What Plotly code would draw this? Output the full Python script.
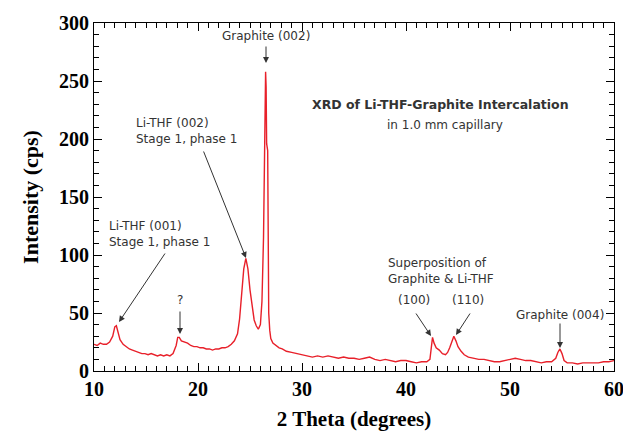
import plotly.graph_objects as go

two_theta = [10.0, 10.3, 10.6, 10.9, 11.2, 11.5, 11.8, 12.0, 12.15, 12.3, 12.5, 12.8, 13.1, 13.4, 13.7,
             14.0, 14.3, 14.6, 14.9, 15.2, 15.5, 15.8, 16.1, 16.4, 16.7, 17.0, 17.3, 17.6, 17.9, 18.05,
             18.2, 18.4, 18.7, 19.0, 19.3, 19.6, 19.9, 20.2, 20.5, 20.8, 21.1, 21.4, 21.7, 22.0, 22.3,
             22.6, 22.9, 23.2, 23.5, 23.8, 24.0, 24.2, 24.4, 24.6, 24.8, 25.0, 25.2, 25.4, 25.6, 25.8,
             26.0, 26.15, 26.3, 26.4, 26.45, 26.5, 26.55, 26.6, 26.7, 26.75, 26.8, 26.9, 27.0, 27.2, 27.5,
             27.8, 28.1, 28.5, 29.0, 29.5, 30.0, 30.5, 31.0, 31.5, 32.0, 32.5, 33.0, 33.5, 34.0, 34.5,
             35.0, 35.5, 36.0, 36.5, 37.0, 37.5, 38.0, 38.5, 39.0, 39.5, 40.0, 40.5, 41.0, 41.5, 42.0,
             42.3, 42.45, 42.55, 42.7, 42.9, 43.2, 43.5, 43.8, 44.0, 44.2, 44.4, 44.6, 44.8, 45.0, 45.3,
             45.6, 46.0, 46.5, 47.0, 47.5, 48.0, 48.5, 49.0, 49.5, 50.0, 50.5, 51.0, 51.5, 52.0, 52.5,
             53.0, 53.5, 54.0, 54.4, 54.6, 54.8, 55.0, 55.2, 55.5, 56.0, 56.5, 57.0, 57.5, 58.0, 58.5,
             59.0, 59.5, 60.0]
intensity = [23, 22, 24, 23, 23, 25, 30, 38, 39, 33, 27, 23, 21, 19, 18,
             17, 16, 15, 15, 14, 15, 14, 13, 14, 13, 14, 13, 15, 22, 29,
             29, 26, 25, 24, 22, 21, 21, 20, 20, 19, 19, 18, 19, 19, 20,
             20, 21, 23, 26, 32, 45, 68, 88, 97, 88, 70, 55, 44, 39, 36,
             40, 60, 115, 200, 240, 258, 245, 196, 190, 100, 50, 35, 28, 24, 22,
             20, 19, 17, 16, 15, 14, 13, 12, 13, 12, 13, 12, 11, 12, 11,
             11, 10, 11, 12, 10, 9, 10, 9, 8, 9, 9, 8, 7, 8, 8,
             10, 25, 29, 24, 20, 18, 15, 14, 16, 20, 26, 30, 26, 21, 17,
             14, 12, 11, 10, 10, 9, 8, 8, 9, 10, 11, 10, 9, 9, 8,
             7, 8, 8, 11, 16, 19, 15, 9, 7, 7, 6, 7, 7, 7, 7,
             8, 8, 9]

x_tickvals = [10, 20, 30, 40, 50, 60]
x_ticktext = ["10", "20", "30", "40", "50", "60"]
y_tickvals = [0, 50, 100, 150, 200, 250, 300]

# the page body has an 8px margin, so the figure is offset by (8, 8) in the window
OFF = 8
W, H = 631 - OFF, 434 - OFF
L, R, T, B = 94 - OFF, 17, 23 - OFF, 63


def px2x(px):
    # px given in window coordinates
    return 10 + (px - OFF - L) * 50 / (W - L - R)


def px2y(py):
    return (H - B - (py - OFF)) * 300 / (H - B - T)


fig = go.Figure()
fig.add_trace(go.Scatter(x=two_theta, y=intensity, mode="lines",
                         line=dict(color="#e8202a", width=1.4), hoverinfo="skip"))

afont = dict(family="DejaVu Sans", size=12, color="#333333")
acol = "#333333"
ann = []


def label(px, py, text, anchor="center", size=12, bold=False):
    f = dict(afont)
    f["size"] = size
    if bold:
        text = "<b>" + text + "</b>"
    ann.append(dict(x=px2x(px), y=px2y(py), xref="x", yref="y", text=text, showarrow=False,
                    xanchor=anchor, yanchor="middle", font=f, align="left"))


def arrow(x0, y0, x1, y1):
    ann.append(dict(x=px2x(x1), y=px2y(y1), xref="x", yref="y", ax=x0 - x1, ay=y0 - y1,
                    text="", showarrow=True, arrowhead=2, arrowsize=1.2, arrowwidth=1,
                    arrowcolor=acol, standoff=0))


label(266, 36, "Graphite (002)")
arrow(266, 45, 266, 63)
label(440, 104, "XRD of Li-THF-Graphite Intercalation", size=12.5, bold=True)
label(445, 125, "in 1.0 mm capillary")
label(134, 131, "Li-THF (002)<br>Stage 1, phase 1", anchor="left")
arrow(203, 150, 246, 258)
label(107, 234, "Li-THF (001)<br>Stage 1, phase 1", anchor="left")
arrow(166, 252, 119, 322)
label(180, 300, "?")
arrow(180, 310, 180, 334)
label(386, 271, "Superposition of<br>Graphite &amp; Li-THF", anchor="left")
label(414, 300, "(100)")
label(468, 300, "(110)")
arrow(415, 312, 431, 336)
arrow(471, 312, 456, 335)
label(560, 315, "Graphite (004)")
arrow(560, 322, 560, 348)

# degree sign after the last x tick label
ann.append(dict(x=1.0, y=0.0, xref="paper", yref="paper", text="°", showarrow=False,
                xanchor="left", yanchor="top", xshift=6, yshift=-6,
                font=dict(family="DejaVu Sans", size=20, color="black")))

tickfont = dict(family="Liberation Serif", size=20, color="black", weight="bold")
titlefont = dict(family="Liberation Serif", size=21, color="black")

fig.update_layout(
    width=W, height=H, margin=dict(l=L, r=R, t=T, b=B, autoexpand=False),
    paper_bgcolor="white", plot_bgcolor="white", showlegend=False,
    annotations=ann,
    xaxis=dict(range=[10, 60], tickvals=x_tickvals, ticktext=x_ticktext, automargin=False,
               ticks="inside", ticklen=8, tickwidth=1, tickcolor="black",
               showline=True, linecolor="black", linewidth=1, mirror="allticks",
               showgrid=False, zeroline=False,
               tickfont=tickfont,
               minor=dict(dtick=1, ticks="inside", ticklen=5, tickcolor="black", showgrid=False),
               title=dict(text="<b>2 Theta (degrees)</b>", font=titlefont, standoff=12)),
    yaxis=dict(range=[0, 300], tickvals=y_tickvals, automargin=False,
               ticks="inside", ticklen=8, tickwidth=1, tickcolor="black",
               showline=True, linecolor="black", linewidth=1, mirror="allticks",
               showgrid=False, zeroline=False,
               tickfont=tickfont,
               minor=dict(dtick=10, ticks="inside", ticklen=5, tickcolor="black", showgrid=False),
               title=dict(text="<b>Intensity (cps)</b>", font=dict(family="Liberation Serif", size=22,
                                                                   color="black"), standoff=14)),
)

fig.write_html("out.html")
